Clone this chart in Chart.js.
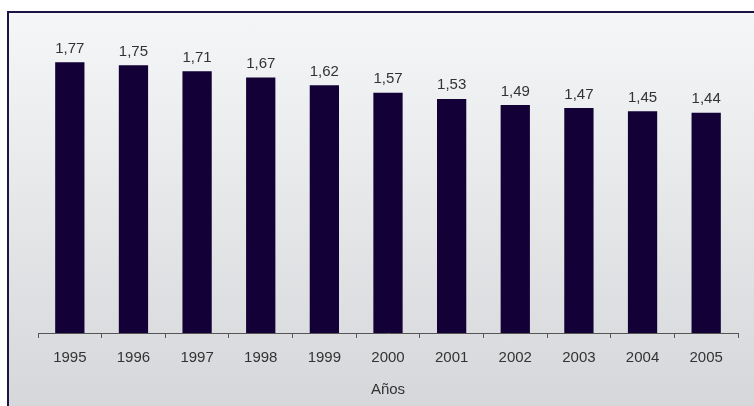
<!DOCTYPE html>
<html>
<head>
<meta charset="utf-8">
<script src="https://cdn.jsdelivr.net/npm/chart.js@4"></script>
<style>
  html, body { margin: 0; padding: 0; background: #ffffff; }
  #wrap { position: relative; width: 754px; height: 406px; overflow: hidden; }
  #frame { position: absolute; left: 7px; top: 11px; width: 800px; height: 460px;
           border-left: 2px solid #1c1444; border-top: 2px solid #1c1444;
           background: linear-gradient(to bottom, #f5f6f7 0px, #d6d7da 395px); }
  canvas { position: absolute; left: 0; top: 0; }
</style>
</head>
<body>
<div id="wrap">
  <div id="frame"></div>
  <canvas id="c" width="754" height="406"></canvas>
</div>
<script>
const categories = ['1995','1996','1997','1998','1999','2000','2001','2002','2003','2004','2005'];
const values = [1.77, 1.75, 1.71, 1.67, 1.62, 1.57, 1.53, 1.49, 1.47, 1.45, 1.44];
const axisTitle = 'Años';

const FONT = '"Liberation Sans", Arial, Helvetica, sans-serif';

const valueLabels = {
  id: 'valueLabels',
  afterDatasetsDraw(chart) {
    const ctx = chart.ctx;
    const meta = chart.getDatasetMeta(0);
    ctx.save();
    ctx.font = '15px ' + FONT;
    ctx.fillStyle = '#333333';
    ctx.textAlign = 'center';
    ctx.textBaseline = 'alphabetic';
    meta.data.forEach((bar, i) => {
      const txt = values[i].toFixed(2).replace('.', ',');
      ctx.fillText(txt, bar.x, bar.y - 9.5);
    });
    ctx.restore();
  }
};

new Chart(document.getElementById('c'), {
  type: 'bar',
  data: {
    labels: categories,
    datasets: [{
      data: values,
      backgroundColor: '#120036',
      borderWidth: 0,
      barPercentage: 0.46,
      categoryPercentage: 1
    }]
  },
  options: {
    responsive: false,
    animation: false,
    devicePixelRatio: 1,
    layout: { padding: { left: 38, right: 16, top: 27, bottom: 7 } },
    plugins: { legend: { display: false }, tooltip: { enabled: false } },
    scales: {
      x: {
        offset: true,
        grid: { display: true, drawOnChartArea: false, drawTicks: true, tickLength: 5, color: '#555555', offset: true },
        border: { display: true, color: '#555555', width: 1 },
        ticks: { color: '#333333', font: { family: FONT, size: 15 }, padding: 11, maxRotation: 0 },
        title: { display: true, text: axisTitle, color: '#333333', font: { family: FONT, size: 15 }, padding: { top: 3, bottom: 0 } }
      },
      y: {
        display: false,
        min: 0,
        max: 2
      }
    }
  },
  plugins: [valueLabels]
});
</script>
</body>
</html>
